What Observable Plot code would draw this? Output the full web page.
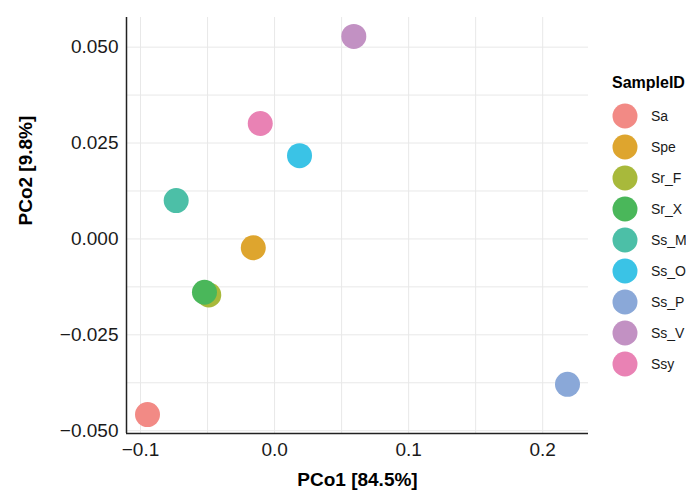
<!DOCTYPE html>
<html>
<head>
<meta charset="utf-8">
<script src="https://cdn.jsdelivr.net/npm/d3@7"></script>
<script src="https://cdn.jsdelivr.net/npm/@observablehq/plot@0.6"></script>
<style>
  html, body { margin: 0; padding: 0; background: #fff; }
  #wrap { position: relative; width: 686px; height: 495px; font-family: "Liberation Sans", Arial, sans-serif; }
  #legend { position: absolute; left: 612px; top: 74px; }
  #legend .title { font-weight: bold; font-size: 16px; color: #000; margin-bottom: 8px; }
  #legend .row { display: flex; align-items: center; height: 31px; }
  #legend .row span { font-size: 14px; color: #1a1a1a; margin-left: 13px; }
</style>
</head>
<body>
<div id="wrap"></div>
<script>
const sampleIds = ["Sa", "Spe", "Sr_F", "Sr_X", "Ss_M", "Ss_O", "Ss_P", "Ss_V", "Ssy"];
const pco1 = [-0.0948, -0.0159, -0.0491, -0.0523, -0.0734, 0.0186, 0.2185, 0.0591, -0.0107];
const pco2 = [-0.0458, -0.0023, -0.0146, -0.0139, 0.0100, 0.0217, -0.0379, 0.0528, 0.0301];
const colors = ["#F28A85", "#DEA52E", "#A8B93B", "#4AB75A", "#4CBFA7", "#3AC3E6", "#8AA8D8", "#C291C3", "#E982B4"];
const xTicks = [-0.1, 0.0, 0.1, 0.2];
const yTicks = [-0.050, -0.025, 0.000, 0.025, 0.050];
const xGrid = [-0.1, -0.05, 0, 0.05, 0.1, 0.15, 0.2];
const yGrid = [-0.05, -0.0375, -0.025, -0.0125, 0, 0.0125, 0.025, 0.0375, 0.05];
const xTitle = "PCo1 [84.5%]";
const yTitle = "PCo2 [9.8%]";
const legendTitle = "SampleID";

const points = sampleIds.map((id, i) => ({id, x: pco1[i], y: pco2[i]}));

// ggplot-style 5% expansion
const xr = d3.extent(pco1), yr = d3.extent(pco2);
const xd = [xr[0] - 0.05 * (xr[1] - xr[0]), xr[1] + 0.05 * (xr[1] - xr[0])];
const yd = [yr[0] - 0.05 * (yr[1] - yr[0]), yr[1] + 0.05 * (yr[1] - yr[0])];

const chart = Plot.plot({
  width: 686,
  height: 495,
  marginLeft: 126,
  marginTop: 17,
  marginRight: 98,
  marginBottom: 62,
  style: {fontFamily: "'Liberation Sans', Arial, sans-serif", background: "#fff", color: "#1a1a1a"},
  x: {domain: xd},
  y: {domain: yd},
  color: {domain: sampleIds, range: colors},
  marks: [
    Plot.gridX(xGrid, {stroke: "#e8e8e8", strokeOpacity: 1, strokeWidth: 1}),
    Plot.gridY(yGrid, {stroke: "#e8e8e8", strokeOpacity: 1, strokeWidth: 1}),
    Plot.axisX(xTicks, {tickSize: 0, tickPadding: 9, fontSize: 19, tickFormat: d3.format(".1f"), label: null}),
    Plot.axisY(yTicks, {tickSize: 0, tickPadding: 8, fontSize: 19, tickFormat: d3.format(".3f"), label: null}),
    Plot.ruleX([xd[0]], {stroke: "#222", strokeWidth: 1.5}),
    Plot.ruleY([yd[0]], {stroke: "#222", strokeWidth: 1.5}),
    Plot.dot(points, {x: "x", y: "y", fill: "id", r: 12.5, stroke: null, fillOpacity: 1}),
    Plot.text([xTitle], {frameAnchor: "bottom", dy: 46, lineAnchor: "middle", fontWeight: "bold", fontSize: 19, fill: "#000"}),
    Plot.text([yTitle], {frameAnchor: "left", dx: -101, rotate: -90, lineAnchor: "middle", fontWeight: "bold", fontSize: 19, fill: "#000"})
  ]
});

const wrap = document.getElementById("wrap");
wrap.appendChild(chart);

// Legend built from the same color scale
const scale = chart.scale("color");
const leg = document.createElement("div");
leg.id = "legend";
const t = document.createElement("div");
t.className = "title";
t.textContent = legendTitle;
leg.appendChild(t);
for (const id of sampleIds) {
  const row = document.createElement("div");
  row.className = "row";
  const svg = d3.create("svg").attr("width", 26).attr("height", 26);
  svg.append("circle").attr("cx", 13).attr("cy", 13).attr("r", 12.5).attr("fill", scale.apply(id));
  row.appendChild(svg.node());
  const s = document.createElement("span");
  s.textContent = id;
  row.appendChild(s);
  leg.appendChild(row);
}
wrap.appendChild(leg);
</script>
</body>
</html>
